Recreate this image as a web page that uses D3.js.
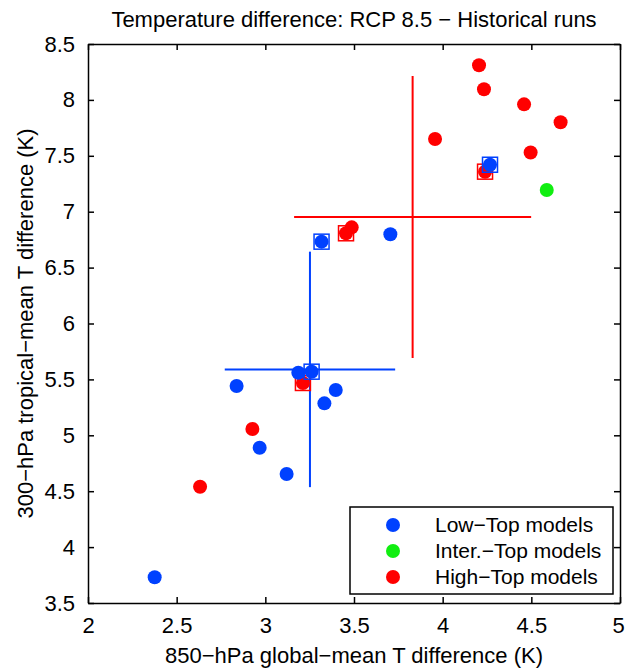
<!DOCTYPE html>
<html>
<head>
<meta charset="utf-8">
<script src="https://cdn.jsdelivr.net/npm/d3@7"></script>
<style>
  body { margin: 0; background: #fff; }
  text { font-family: "Liberation Sans", Arial, Helvetica, sans-serif; fill: #000; }
</style>
</head>
<body>
<script>

let width = 625;
let height = 668;

let margins = {
	top: 44,
	right: 5,
	bottom: 65,
	left: 88
};

// Low-Top models
let lowX = [2.376, 2.838, 2.968, 3.120, 3.186, 3.261, 3.397, 3.333, 3.317, 3.705, 4.267];
let lowY = [3.730, 5.441, 4.889, 4.654, 5.560, 5.569, 5.405, 5.286, 6.732, 6.798, 7.420];
let lowBoxed = [false, false, false, false, false, true, false, false, true, false, true];

// Inter.-Top models
let interX = [4.587];
let interY = [7.194];

// High-Top models
let highX = [4.205, 4.233, 4.459, 4.665, 3.957, 4.496, 4.239, 3.487, 3.455, 3.212, 2.927, 2.632];
let highY = [8.310, 8.095, 7.960, 7.800, 7.650, 7.530, 7.358, 6.860, 6.807, 5.468, 5.057, 4.540];
let highBoxed = [false, false, false, false, false, false, true, false, true, true, false, false];

let xTicks = [2, 2.5, 3, 3.5, 4, 4.5, 5];
let yTicks = [3.5, 4, 4.5, 5, 5.5, 6, 6.5, 7, 7.5, 8, 8.5];

let legendLabels = ["Low\u2212Top models", "Inter.\u2212Top models", "High\u2212Top models"];

let blue = "#0041ff";
let green = "#11ee11";
let red = "#ff0000";

let xScale = d3.scaleLinear()
	.range([margins.left, width - margins.right])
	.domain([2, 5]);

let yScale = d3.scaleLinear()
	.range([height - margins.bottom, margins.top])
	.domain([3.5, 8.5]);

let fmt = d => String(d);

let svg = d3.select("body")
	.append("svg")
		.attr("width", width)
		.attr("height", height);

// mean +/- one standard deviation crosses
function cross(xs, ys, color) {
	let mx = d3.mean(xs), my = d3.mean(ys);
	let sx = d3.deviation(xs), sy = d3.deviation(ys);
	svg.append("line")
		.attr("x1", xScale(mx - sx)).attr("x2", xScale(mx + sx))
		.attr("y1", yScale(my)).attr("y2", yScale(my))
		.style("stroke", color).style("stroke-width", "2px");
	svg.append("line")
		.attr("x1", xScale(mx)).attr("x2", xScale(mx))
		.attr("y1", yScale(my - sy)).attr("y2", yScale(my + sy))
		.style("stroke", color).style("stroke-width", "2px");
}

cross(lowX, lowY, blue);
cross(highX, highY, red);

function points(xs, ys, boxed, color) {
	let data = xs.map((x, i) => ({ x: x, y: ys[i], boxed: boxed ? boxed[i] : false }));
	let g = svg.append("g");
	g.selectAll("circle")
		.data(data)
		.enter().append("circle")
			.attr("cx", d => xScale(d.x))
			.attr("cy", d => yScale(d.y))
			.attr("r", 7)
			.style("fill", color);
	g.selectAll("rect")
		.data(data.filter(d => d.boxed))
		.enter().append("rect")
			.attr("x", d => xScale(d.x) - 7.5)
			.attr("y", d => yScale(d.y) - 7.5)
			.attr("width", 15)
			.attr("height", 15)
			.style("fill", "none")
			.style("stroke", color)
			.style("stroke-width", "1.5px");
}

points(highX, highY, highBoxed, red);
points(interX, interY, null, green);
points(lowX, lowY, lowBoxed, blue);

// axes, box style with inward ticks
let tickLen = 6;
let bottomAxis = svg.append("g")
	.attr("transform", "translate(0," + (height - margins.bottom) + ")")
	.call(d3.axisBottom(xScale).tickValues(xTicks).tickFormat(fmt).tickSizeInner(-tickLen).tickSizeOuter(0).tickPadding(14));
svg.append("g")
	.attr("transform", "translate(0," + margins.top + ")")
	.call(d3.axisTop(xScale).tickValues(xTicks).tickFormat("").tickSizeInner(-tickLen).tickSizeOuter(0));
svg.append("g")
	.attr("transform", "translate(" + margins.left + ",0)")
	.call(d3.axisLeft(yScale).tickValues(yTicks).tickFormat(fmt).tickSizeInner(-tickLen).tickSizeOuter(0).tickPadding(13));
svg.append("g")
	.attr("transform", "translate(" + (width - margins.right) + ",0)")
	.call(d3.axisRight(yScale).tickValues(yTicks).tickFormat("").tickSizeInner(-tickLen).tickSizeOuter(0));

svg.selectAll(".domain").style("stroke", "#000").style("stroke-width", "1.5px");
svg.selectAll(".tick line").style("stroke", "#000").style("stroke-width", "1.5px");
svg.selectAll(".tick text").style("font-size", "22px").style("font-family", "Liberation Sans, Arial, sans-serif");

// keep the last x label inside the window
bottomAxis.selectAll(".tick text")
	.filter(d => d === 5)
	.attr("dx", "-2px");

// labels
svg.append("text")
	.attr("x", (margins.left + width - margins.right) / 2)
	.attr("y", 27)
	.attr("text-anchor", "middle")
	.style("font-size", "22px")
	.text("Temperature difference: RCP 8.5 \u2212 Historical runs");

svg.append("text")
	.attr("x", (margins.left + width - margins.right) / 2)
	.attr("y", 663)
	.attr("text-anchor", "middle")
	.style("font-size", "22px")
	.text("850\u2212hPa global\u2212mean T difference (K)");

svg.append("text")
	.attr("transform", "translate(33," + ((margins.top + height - margins.bottom) / 2) + ") rotate(-90)")
	.attr("text-anchor", "middle")
	.style("font-size", "22px")
	.text("300\u2212hPa tropical\u2212mean T difference (K)");

// legend
let legend = svg.append("g").attr("transform", "translate(350,507)");
legend.append("rect")
	.attr("width", 263)
	.attr("height", 87)
	.style("fill", "#fff")
	.style("stroke", "#000")
	.style("stroke-width", "1.5px");
let legendColors = [blue, green, red];
legendLabels.forEach((label, i) => {
	legend.append("circle")
		.attr("cx", 43)
		.attr("cy", 18 + i * 26)
		.attr("r", 7)
		.style("fill", legendColors[i]);
	legend.append("text")
		.attr("x", 85)
		.attr("y", 18 + i * 26)
		.attr("dy", "0.35em")
		.style("font-size", "21px")
		.text(label);
});

</script>
</body>
</html>
